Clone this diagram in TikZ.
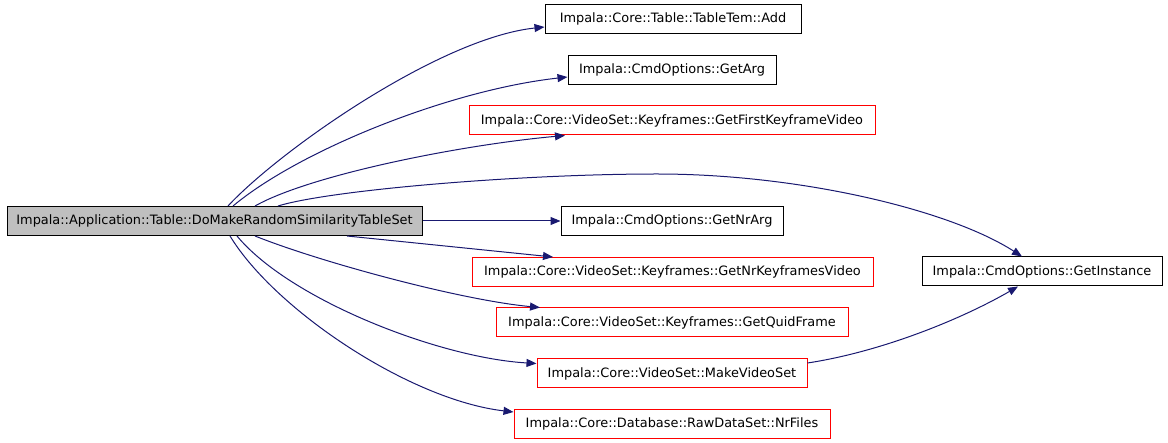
\documentclass[tikz,border=0pt]{standalone}
\usepackage{fontspec}
\setmainfont{DejaVu Sans}
\usetikzlibrary{arrows.meta}
\definecolor{edgeblue}{HTML}{191970}
\definecolor{boxred}{HTML}{FF0000}
\definecolor{mainfill}{HTML}{BFBFBF}
\begin{document}
\begin{tikzpicture}[x=1pt,y=-1pt,
  fn/.style={draw=black,line width=1pt,rectangle,inner sep=0pt,minimum height=29pt,
    font=\fontsize{12.9}{15}\selectfont,text=black},
  redfn/.style={fn,draw=boxred},
  mainfn/.style={fn,fill=mainfill},
  edge/.style={draw=edgeblue,line width=1pt,-{Triangle[length=10pt,width=8pt]}}]
\useasboundingbox (0,0) rectangle (1168,443);
\node[mainfn,minimum width=415pt] (main) at (214.5,221) {Impala::Application::Table::DoMakeRandomSimilarityTableSet};
\node[fn,minimum width=256pt] (add) at (673,19) {Impala::Core::Table::TableTem::Add};
\node[fn,minimum width=208pt] (getarg) at (672,70) {Impala::CmdOptions::GetArg};
\node[redfn,minimum width=406pt] (first) at (672,120.5) {Impala::Core::VideoSet::Keyframes::GetFirstKeyframeVideo};
\node[fn,minimum width=222pt] (nrarg) at (672,221) {Impala::CmdOptions::GetNrArg};
\node[redfn,minimum width=401pt] (nrkey) at (672.5,272) {Impala::Core::VideoSet::Keyframes::GetNrKeyframesVideo};
\node[redfn,minimum width=352pt] (quid) at (672,322.5) {Impala::Core::VideoSet::Keyframes::GetQuidFrame};
\node[redfn,minimum width=270pt] (make) at (672,373.5) {Impala::Core::VideoSet::MakeVideoSet};
\node[redfn,minimum width=316pt] (nrfiles) at (672,424) {Impala::Core::Database::RawDataSet::NrFiles};
\node[fn,minimum width=240pt] (inst) at (1042,271.5) {Impala::CmdOptions::GetInstance};

\draw[edge] ([xshift=13.5pt]main.north) .. controls (280,150) and (440,38) .. ([yshift=-8pt]add.west);
\draw[edge] ([xshift=18.5pt]main.north) .. controls (300,150) and (450,90) .. ([yshift=-7pt]getarg.west);
\draw[edge] ([xshift=40.5pt]main.north) .. controls (310,175) and (460,145) .. ([xshift=-107pt]first.south);
\draw[edge] ([xshift=63.5pt]main.north) .. controls (330,190) and (520,174) .. (657,174)
  .. controls (800,174) and (950,210) .. ([xshift=-20pt]inst.north);
\draw[edge] (main.east) -- (nrarg.west);
\draw[edge] ([xshift=132.5pt]main.south) -- ([xshift=-119.5pt]nrkey.north);
\draw[edge] ([xshift=40.5pt]main.south) .. controls (320,262) and (460,300) .. ([xshift=-132pt]quid.north);
\draw[edge] ([xshift=22.5pt]main.south) .. controls (290,300) and (440,358) .. ([yshift=10pt]make.west);
\draw[edge] ([xshift=15.5pt]main.south) .. controls (275,310) and (410,400) .. ([yshift=12pt]nrfiles.west);
\draw[edge] ([yshift=10.5pt]make.east) .. controls (880,352) and (960,320) .. ([xshift=-24pt]inst.south);
\end{tikzpicture}
\end{document}
